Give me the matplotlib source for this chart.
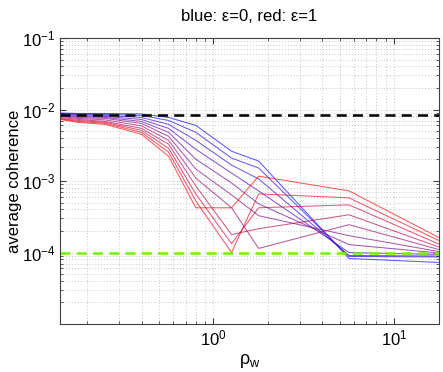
import numpy as np
import matplotlib
matplotlib.use('Agg')
import matplotlib.pyplot as plt
from matplotlib.ticker import LogLocator, NullFormatter, FixedLocator

plt.rcParams['font.family'] = ['Liberation Sans', 'DejaVu Sans']
plt.rcParams['mathtext.fontset'] = 'custom'
plt.rcParams['mathtext.rm'] = 'Liberation Sans'
plt.rcParams['mathtext.it'] = 'Liberation Sans:italic'

# rho_w sample points
rho_w = [0.141, 0.178, 0.252, 0.399, 0.564, 0.798, 1.26, 1.78, 5.64, 17.8]

# average coherence, one row per epsilon (0 -> blue ... 1 -> red)
eps = [0.0, 0.1, 0.2, 0.3, 0.4, 0.5, 0.6, 0.7, 0.8, 0.9, 1.0]
coh = [
    [8.94e-3, 8.80e-3, 8.80e-3, 8.66e-3, 7.74e-3, 6.00e-3, 2.61e-3, 1.90e-3, 8.25e-5, 7.26e-5],
    [8.80e-3, 8.66e-3, 8.53e-3, 8.25e-3, 7.03e-3, 4.80e-3, 2.09e-3, 1.52e-3, 8.80e-5, 8.66e-5],
    [8.66e-3, 8.53e-3, 8.25e-3, 7.74e-3, 6.19e-3, 3.71e-3, 1.67e-3, 1.07e-3, 9.09e-5, 8.94e-5],
    [8.53e-3, 8.25e-3, 7.99e-3, 7.26e-3, 5.45e-3, 2.78e-3, 1.29e-3, 7.27e-4, 1.00e-4, 9.38e-5],
    [8.39e-3, 7.99e-3, 7.74e-3, 6.81e-3, 4.80e-3, 2.02e-3, 9.38e-4, 4.80e-4, 1.29e-4, 9.84e-5],
    [8.25e-3, 7.74e-3, 7.50e-3, 6.39e-3, 4.22e-3, 1.47e-3, 6.39e-4, 3.27e-4, 1.72e-4, 1.03e-4],
    [7.99e-3, 7.50e-3, 7.15e-3, 5.90e-3, 3.71e-3, 1.10e-3, 4.22e-4, 1.14e-4, 2.45e-4, 1.10e-4],
    [7.74e-3, 7.26e-3, 6.81e-3, 5.45e-3, 3.27e-3, 8.53e-4, 1.78e-4, 2.15e-4, 3.37e-4, 1.19e-4],
    [7.50e-3, 7.03e-3, 6.60e-3, 5.11e-3, 2.87e-3, 6.60e-4, 1.33e-4, 4.22e-4, 4.64e-4, 1.31e-4],
    [7.38e-3, 6.81e-3, 6.39e-3, 4.80e-3, 2.53e-3, 5.27e-4, 1.00e-4, 6.60e-4, 5.81e-4, 1.47e-4],
    [7.26e-3, 6.60e-3, 6.19e-3, 4.50e-3, 2.22e-3, 4.22e-4, 4.22e-4, 1.17e-3, 7.27e-4, 1.62e-4],
]

upper_level = 8.25e-3   # black dashed
lower_level = 1.0e-4    # green dashed

fig = plt.figure(figsize=(4.43, 3.72), dpi=100)
ax = fig.add_axes([60/443, 1-324/372, 379/443, 286/372])

for e, row in zip(eps, coh):
    ax.plot(rho_w, row, color=(e, 0.0, 1.0-e), lw=0.75, alpha=0.65)

ax.axhline(upper_level, color='k', lw=1.8, dashes=(4, 2.5))
ax.axhline(lower_level, color=(0.45, 0.95, 0.0), lw=1.8, dashes=(4, 2.5))

ax.set_xscale('log')
ax.set_yscale('log')
ax.set_xlim(rho_w[0], rho_w[-1])
ax.set_ylim(1e-5, 1e-1)

ax.yaxis.set_major_locator(FixedLocator([1e-4, 1e-3, 1e-2, 1e-1]))
ax.yaxis.set_minor_locator(LogLocator(base=10, subs=np.arange(2, 10), numticks=20))
ax.yaxis.set_minor_formatter(NullFormatter())
ax.xaxis.set_major_locator(FixedLocator([1, 10]))
ax.xaxis.set_minor_locator(LogLocator(base=10, subs=np.arange(2, 10), numticks=20))
ax.xaxis.set_minor_formatter(NullFormatter())
ax.set_yticklabels([r'$10^{-4}$', r'$10^{-3}$', r'$10^{-2}$', r'$10^{-1}$'])
ax.set_xticklabels([r'$10^{0}$', r'$10^{1}$'])

ax.grid(True, which='both', color='#b4b4b4', linestyle=(0, (1, 2.5)), lw=0.6)
ax.tick_params(which='both', direction='in', top=True, right=True, labelsize=12,
               color='#404040')
ax.tick_params(which='major', length=4)
ax.tick_params(which='minor', length=2)
for s in ax.spines.values():
    s.set_color('#404040')

ax.set_xlabel(r'$\mathrm{ρ}_\mathrm{w}$', fontsize=13, labelpad=2)
ax.set_ylabel('average coherence', fontsize=12, labelpad=0)
ax.set_title('blue: ε=0, red: ε=1', fontsize=12, pad=12)

fig.savefig('out.png', dpi=100)
